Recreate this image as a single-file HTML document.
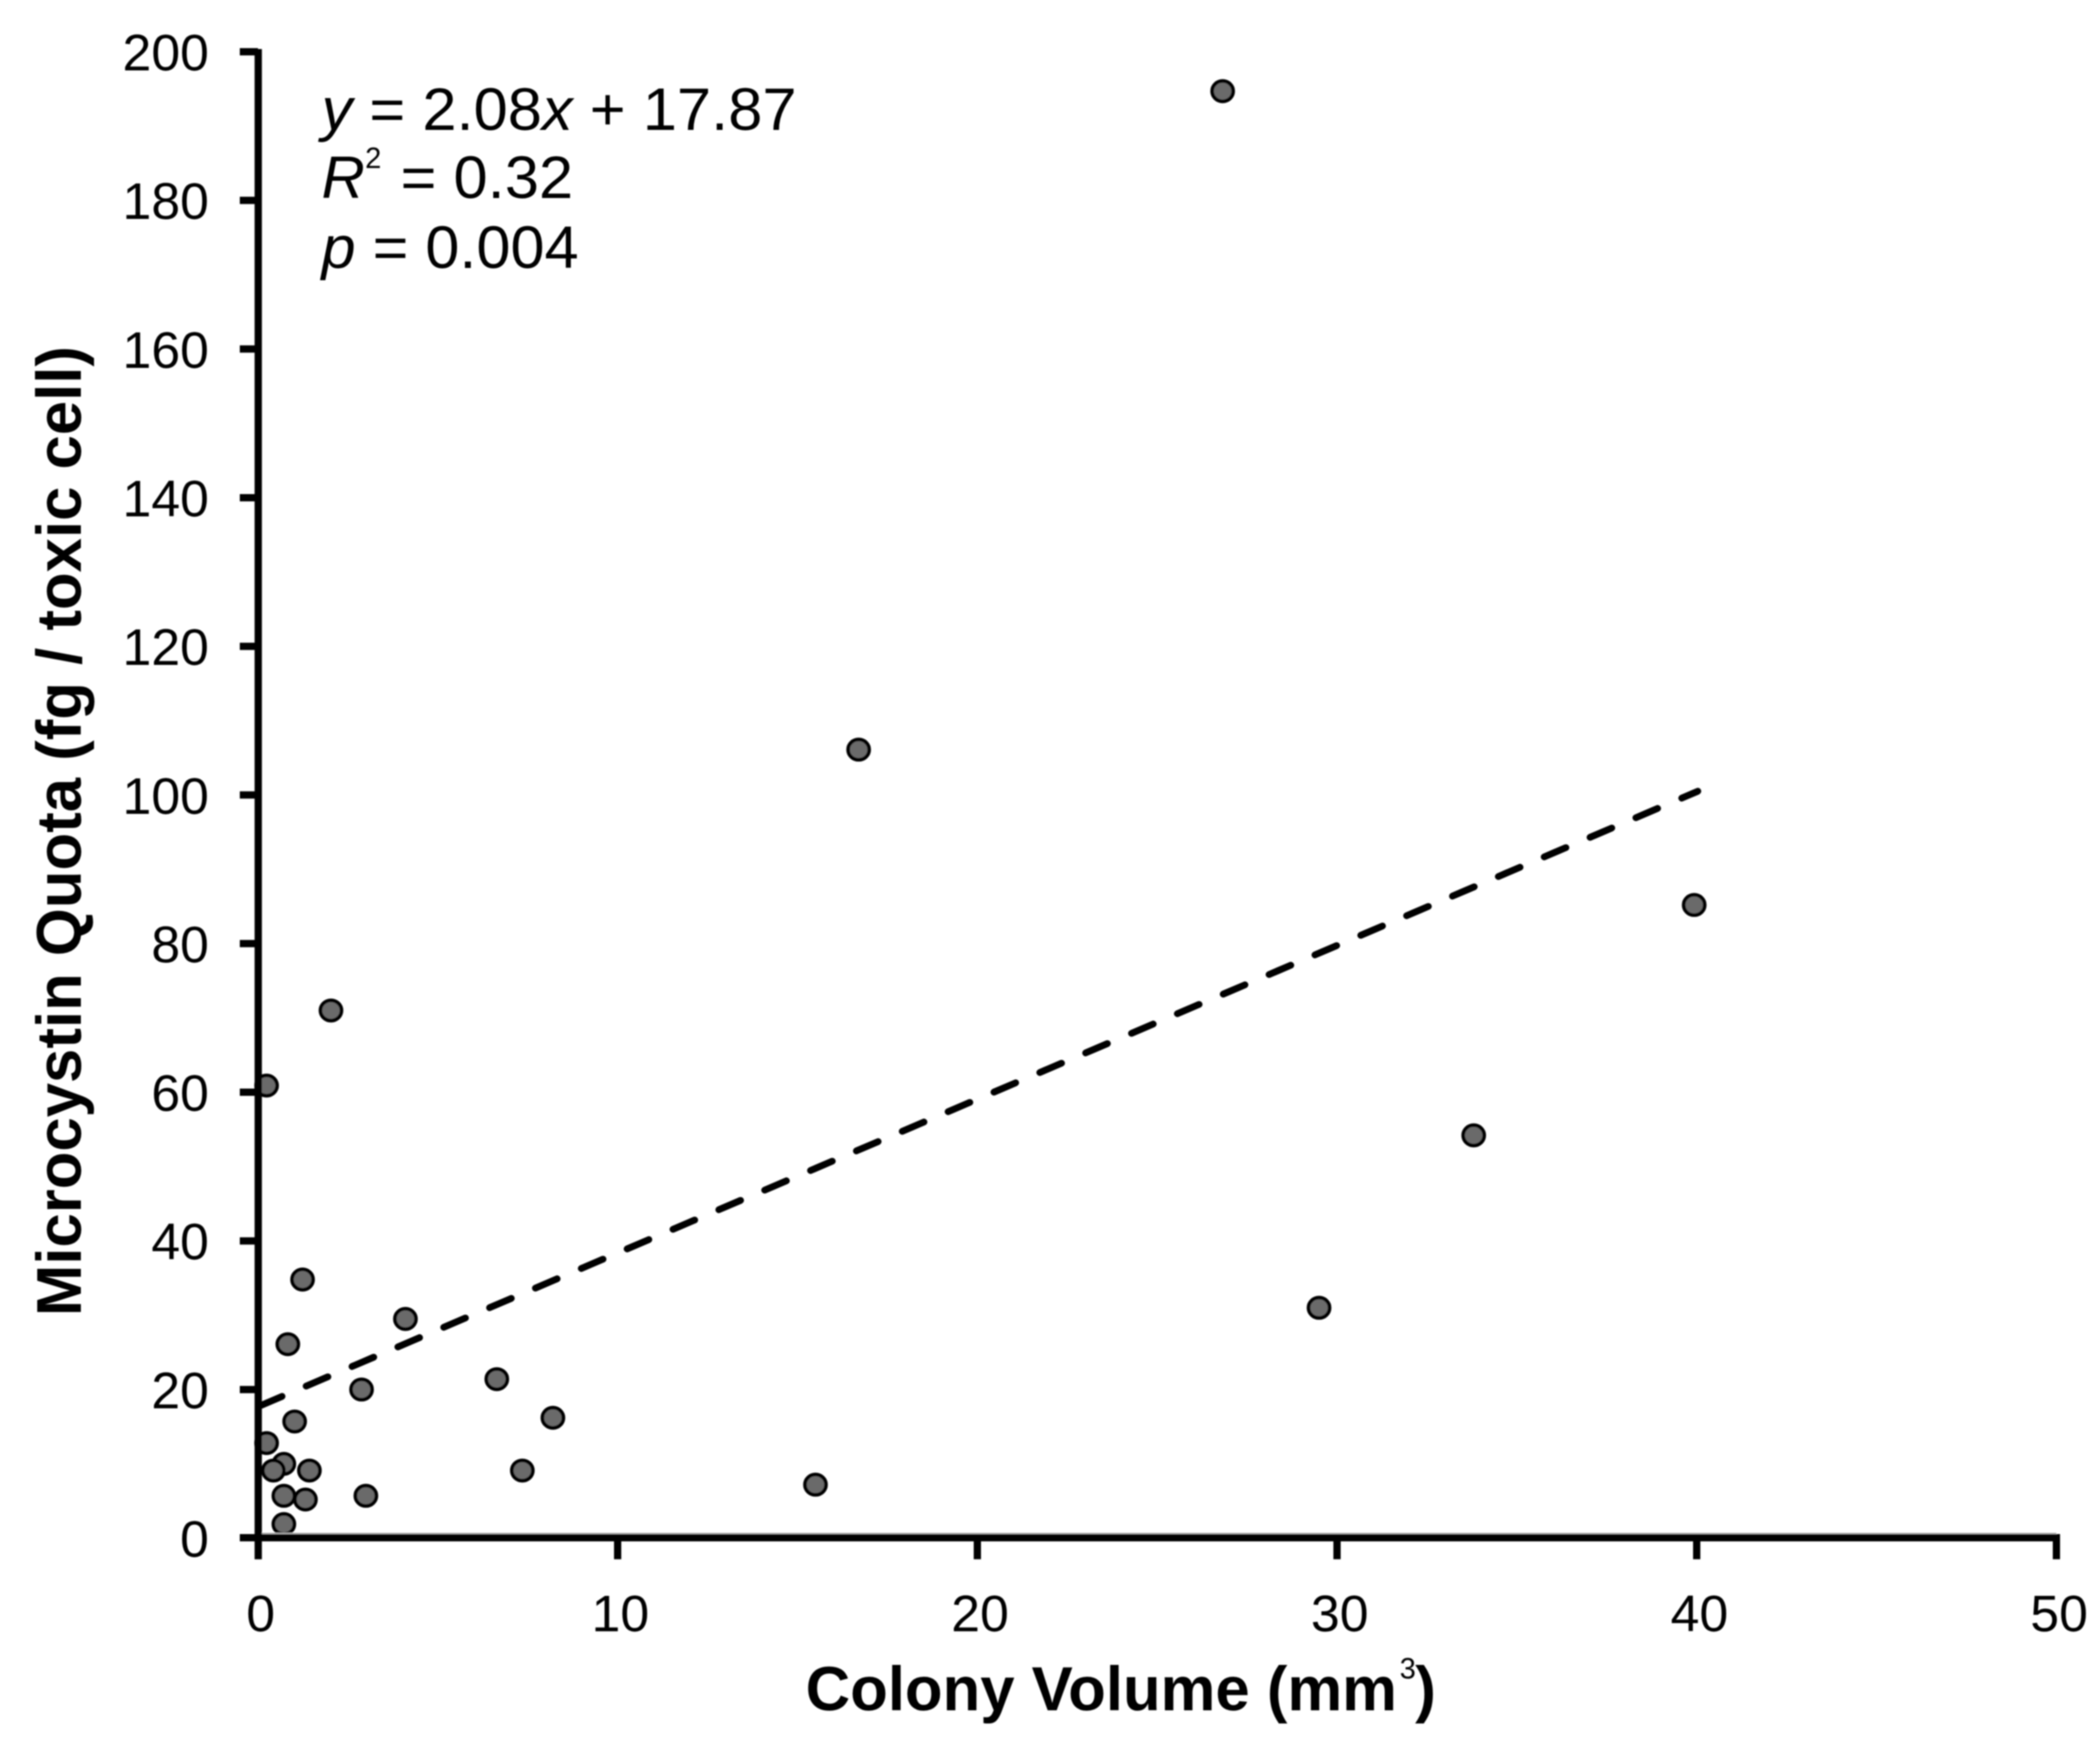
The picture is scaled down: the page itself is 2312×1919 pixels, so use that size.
<!DOCTYPE html>
<html lang="en">
<head>
<meta charset="utf-8">
<title>Microcystin Quota vs Colony Volume</title>
<style>
html,body{margin:0;padding:0;background:#fff;}
svg{display:block;}
text{font-family:"Liberation Sans",sans-serif;fill:#000;}
</style>
</head>
<body>
<svg id="chart" xmlns="http://www.w3.org/2000/svg" width="2312" height="1919" viewBox="0 0 2312 1919">
  <defs><filter id="soft" x="-2%" y="-2%" width="104%" height="104%"><feGaussianBlur stdDeviation="0.7"/></filter></defs>
  <g id="root" filter="url(#soft)">
    <g id="trend-layer"></g>
    <g id="point-layer"></g>
    <g id="axis-layer"></g>
    <g id="annotation">
      <text x="354" y="143" font-size="66" textLength="523" lengthAdjust="spacingAndGlyphs"><tspan font-style="italic">y</tspan> = 2.08<tspan font-style="italic">x</tspan> + 17.87</text>
      <text x="354" y="218" font-size="66"><tspan font-style="italic">R</tspan></text>
      <text x="402" y="185" font-size="32">2</text>
      <text x="441" y="218" font-size="66" textLength="190" lengthAdjust="spacingAndGlyphs">= 0.32</text>
      <text x="354" y="295" font-size="66" textLength="283" lengthAdjust="spacingAndGlyphs"><tspan font-style="italic">p</tspan> = 0.004</text>
    </g>
    <text x="887" y="1883" font-size="69" font-weight="bold" textLength="651" lengthAdjust="spacingAndGlyphs">Colony Volume (mm</text>
    <text x="1541" y="1848" font-size="32">3</text>
    <text x="1558" y="1883" font-size="69" font-weight="bold">)</text>
    <text transform="translate(89,1449) rotate(-90)" x="0" y="0" font-size="70" font-weight="bold" textLength="1068" lengthAdjust="spacingAndGlyphs">Microcystin Quota (fg / toxic cell)</text>
  </g>
</svg>
<script>
const xTickValues = [0, 10, 20, 30, 40, 50];
const yTickValues = [0, 20, 40, 60, 80, 100, 120, 140, 160, 180, 200];
const xValues = [26.82, 16.7, 39.93, 33.8, 29.5, 2.03, 0.24, 1.24, 4.1, 0.83, 2.88, 6.64, 8.2, 1.02, 0.24, 0.72, 0.43, 1.43, 7.35, 15.5, 0.72, 1.32, 3.0, 0.72];
const yValues = [194.7, 106.1, 85.2, 54.2, 31, 71, 60.9, 34.8, 29.5, 26.1, 20, 21.4, 16.2, 15.7, 12.8, 10, 9.1, 9.1, 9.1, 7.2, 5.7, 5.2, 5.7, 1.9];
const trendX = [0.1, 40.03];
const trendY = [17.9, 100.5];

const NS = 'http://www.w3.org/2000/svg';
const sx = v => 284 + (v - 0) * (2264 - 284) / 50;
const sy = v => 1693.5 - (v - 0) * (1693.5 - 57) / 200;

function make(tag, parent, attrs) {
  const el = document.createElementNS(NS, tag);
  Object.keys(attrs).forEach(k => el.setAttribute(k, attrs[k]));
  parent.appendChild(el);
  return el;
}

const axisLayer = document.getElementById('axis-layer');
const pointLayer = document.getElementById('point-layer');
const trendLayer = document.getElementById('trend-layer');

const trend = make('line', trendLayer, {
  x1: sx(trendX[0]), y1: sy(trendY[0]), x2: sx(trendX[1]), y2: sy(trendY[1]),
  stroke: '#000', 'stroke-width': 7.5, 'stroke-dasharray': '26 28.9', 'stroke-dashoffset': 1.5, 'stroke-linecap': 'round'
});



xValues.forEach((x, i) => {
  const pt = make('ellipse', pointLayer, {
    cx: sx(x), cy: sy(yValues[i]), rx: 11.6, ry: 11.2,
    fill: '#6b6b6b', stroke: '#000', 'stroke-width': 4
  });
  
  
});

const shade = make('rect', axisLayer, { x: sx(0), y: 1687.5, width: sx(50) - sx(0), height: 3, fill: '#b0b0b0' });



const xAxis = make('line', axisLayer, { x1: 264, y1: 1693, x2: sx(50) + 4, y2: 1693, stroke: '#000', 'stroke-width': 8 });



const yAxis = make('line', axisLayer, { x1: sx(0) + 0.3, y1: sy(200) - 3, x2: sx(0) + 0.3, y2: 1716.7, stroke: '#000', 'stroke-width': 8 });



xTickValues.forEach(v => {
  if (v !== 0) {
    const tick = make('line', axisLayer, { x1: sx(v), y1: 1693, x2: sx(v), y2: 1716.7, stroke: '#000', 'stroke-width': 8 });
    
    
  }
  const label = make('text', axisLayer, { x: sx(v) + 3, y: 1796, 'font-size': 57, 'text-anchor': 'middle' });
  label.textContent = String(v);
  
  
});

yTickValues.forEach(v => {
  if (v !== 0) {
    const tick = make('line', axisLayer, { x1: 264, y1: sy(v), x2: sx(0), y2: sy(v), stroke: '#000', 'stroke-width': 8 });
    
    
  }
  const label = make('text', axisLayer, { x: 230, y: sy(v) + 20.5, 'font-size': 57, 'text-anchor': 'end' });
  label.textContent = String(v);
  
  
});
</script>
</body>
</html>
